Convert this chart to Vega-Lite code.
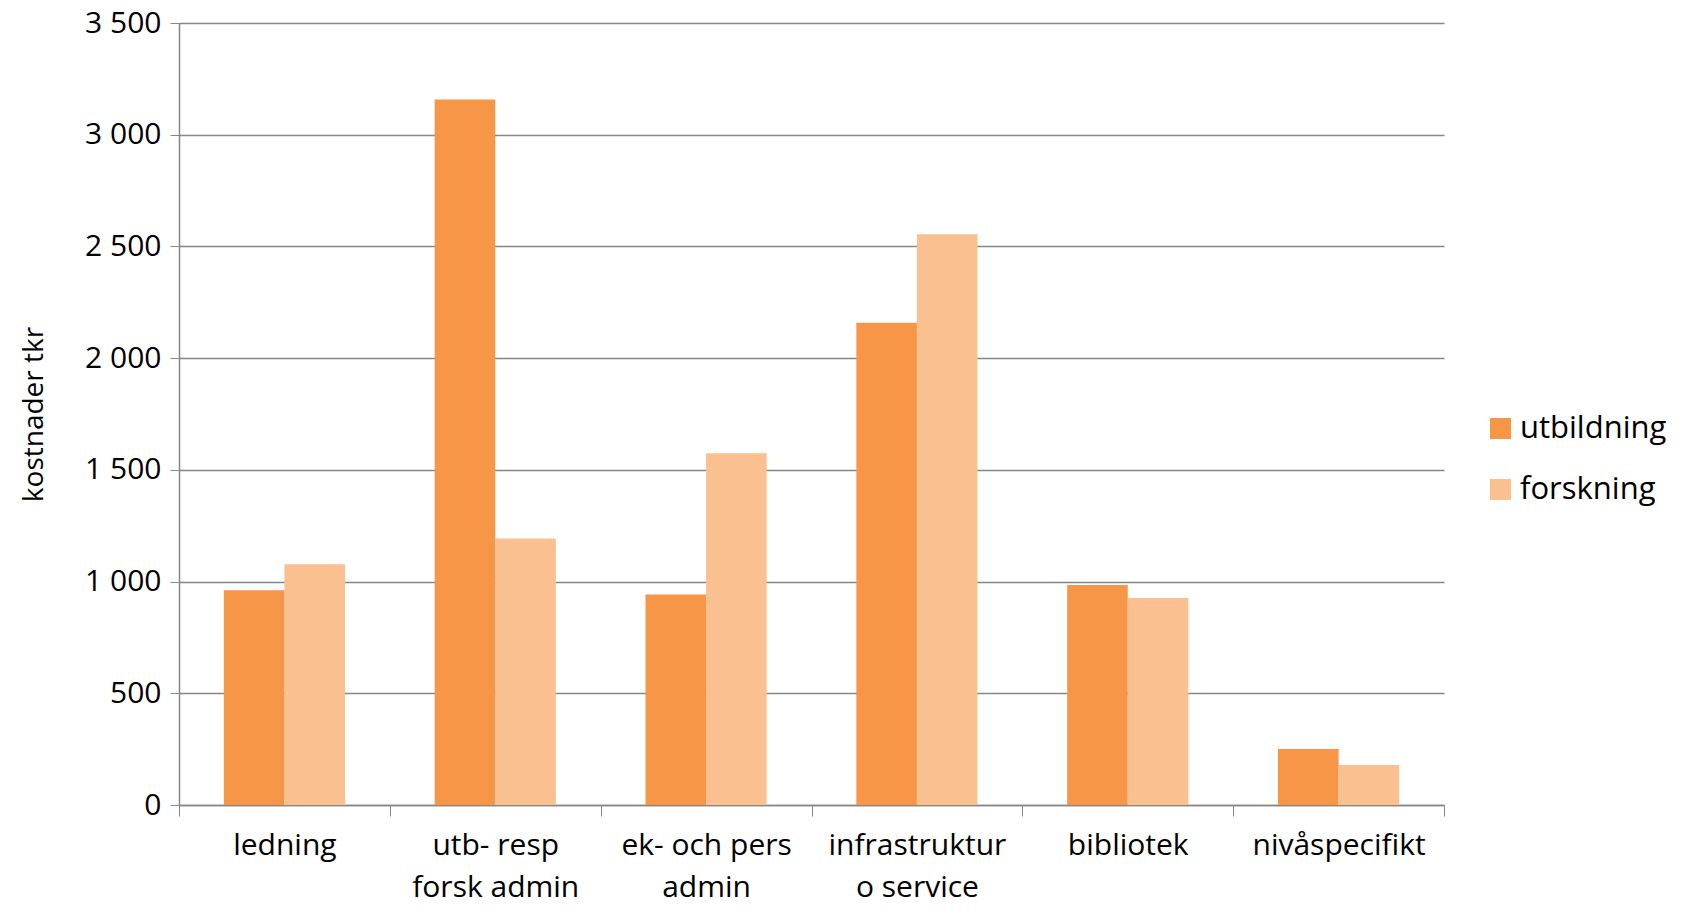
{
  "$schema": "https://vega.github.io/schema/vega-lite/v6.json",
  "width": 1265,
  "height": 782,
  "autosize": "none",
  "padding": {"left": 179, "top": 23, "right": 248, "bottom": 109},
  "background": "white",
  "data": {
    "values": [
      {"kategori": "ledning", "typ": "utbildning", "kostnad": 961},
      {"kategori": "ledning", "typ": "forskning", "kostnad": 1077},
      {"kategori": "utb- resp|forsk admin", "typ": "utbildning", "kostnad": 3158},
      {"kategori": "utb- resp|forsk admin", "typ": "forskning", "kostnad": 1193},
      {"kategori": "ek- och pers|admin", "typ": "utbildning", "kostnad": 942},
      {"kategori": "ek- och pers|admin", "typ": "forskning", "kostnad": 1574},
      {"kategori": "infrastruktur|o service", "typ": "utbildning", "kostnad": 2158},
      {"kategori": "infrastruktur|o service", "typ": "forskning", "kostnad": 2554},
      {"kategori": "bibliotek", "typ": "utbildning", "kostnad": 985},
      {"kategori": "bibliotek", "typ": "forskning", "kostnad": 927},
      {"kategori": "nivåspecifikt", "typ": "utbildning", "kostnad": 251},
      {"kategori": "nivåspecifikt", "typ": "forskning", "kostnad": 179}
    ]
  },
  "mark": "bar",
  "encoding": {
    "x": {
      "field": "kategori",
      "type": "nominal",
      "sort": null,
      "scale": {"paddingInner": 0, "paddingOuter": 0},
      "axis": {
        "title": null,
        "labelAngle": 0,
        "labelExpr": "split(datum.label, '|')",
        "labelFontSize": 30,
        "labelLimit": 0,
        "labelColor": "black",
        "labelPadding": 14,
        "labelLineHeight": 42,
        "tickBand": "extent",
        "tickSize": 11,
        "tickColor": "#868686",
        "domainColor": "#868686",
        "domainWidth": 1.5
      }
    },
    "xOffset": {
      "field": "typ",
      "sort": ["utbildning", "forskning"],
      "scale": {"paddingInner": 0, "paddingOuter": 0.74}
    },
    "y": {
      "field": "kostnad",
      "type": "quantitative",
      "scale": {"domain": [0, 3500]},
      "axis": {
        "title": "kostnader tkr",
        "titleFontSize": 28,
        "titleFontWeight": "normal",
        "titleColor": "black",
        "titlePadding": 36,
        "values": [0, 500, 1000, 1500, 2000, 2500, 3000, 3500],
        "labelExpr": "replace(format(datum.value, ','), ',', ' ')",
        "labelFontSize": 30,
        "labelColor": "black",
        "labelPadding": 9,
        "tickSize": 9,
        "tickColor": "#868686",
        "domainColor": "#868686",
        "domainWidth": 1.5,
        "gridColor": "#868686",
        "gridWidth": 1.3
      }
    },
    "color": {
      "field": "typ",
      "sort": ["utbildning", "forskning"],
      "scale": {"domain": ["utbildning", "forskning"], "range": ["#F79646", "#FAC090"]},
      "legend": {
        "title": null,
        "orient": "none",
        "legendX": 1306,
        "legendY": 390,
        "symbolType": "square",
        "symbolSize": 440,
        "labelFontSize": 31,
        "labelColor": "black",
        "rowPadding": 29
      }
    }
  },
  "config": {
    "font": "Open Sans",
    "view": {"stroke": null}
  }
}
